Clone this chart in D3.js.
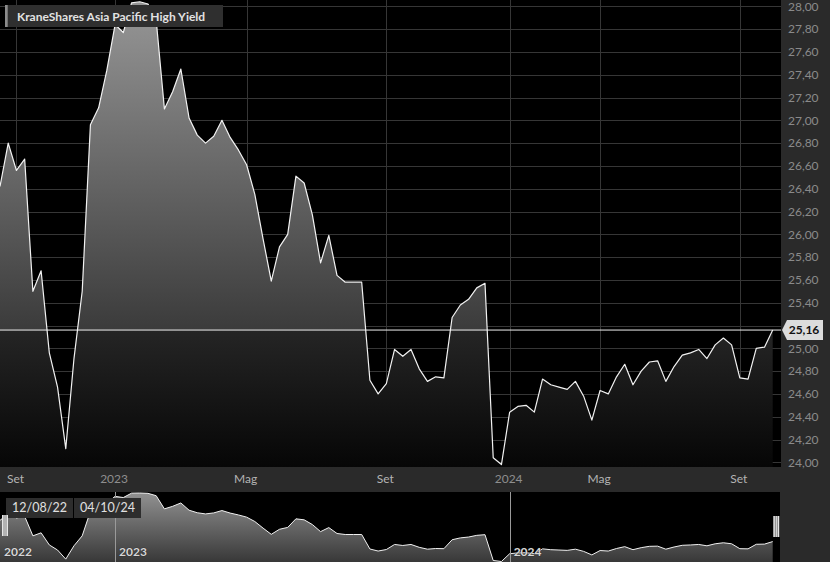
<!DOCTYPE html>
<html><head><meta charset="utf-8">
<script src="https://cdn.jsdelivr.net/npm/d3@7"></script>
<style>
html,body{margin:0;padding:0;background:#2a2a2a;overflow:hidden;}
svg{display:block;font-family:Lato,"Open Sans",sans-serif;}
</style></head><body>
<svg id="c" width="830" height="562"></svg>
<script>
const title = "KraneShares Asia Pacific High Yield";
const values = [
26.42, 26.80, 26.56, 26.66, 25.50, 25.68, 24.96, 24.66, 24.12, 24.91,
25.50, 26.96, 27.11, 27.44, 27.84, 27.77, 28.03, 28.04, 28.02, 27.88,
27.10, 27.25, 27.45, 27.02, 26.87, 26.80, 26.86, 27.00, 26.85, 26.74,
26.61, 26.35, 25.96, 25.59, 25.89, 26.00, 26.51, 26.45, 26.17, 25.75,
25.99, 25.64, 25.58, 25.58, 25.58, 24.72, 24.60, 24.69, 24.99, 24.93,
24.99, 24.82, 24.71, 24.75, 24.74, 25.27, 25.38, 25.43, 25.53, 25.57,
24.04, 23.98, 24.44, 24.49, 24.50, 24.44, 24.73, 24.68, 24.66, 24.64,
24.71, 24.58, 24.37, 24.63, 24.60, 24.75, 24.86, 24.68, 24.80, 24.88,
24.89, 24.71, 24.84, 24.94, 24.96, 24.99, 24.91, 25.03, 25.09, 25.03,
24.74, 24.73, 25.00, 25.01, 25.16
];
const xTickIndex = [2, 14, 30, 47, 62, 73, 90];
const xTickLabels = ["Set", "2023", "Mag", "Set", "2024", "Mag", "Set"];
const yTickValues = [24.0, 24.2, 24.4, 24.6, 24.8, 25.0, 25.2, 25.4, 25.6, 25.8, 26.0,
                     26.2, 26.4, 26.6, 26.8, 27.0, 27.2, 27.4, 27.6, 27.8, 28.0];
const navTickIndex = [0, 14, 62];
const navTickLabels = ["2022", "2023", "2024"];
const rangeFrom = "12/08/22";
const rangeTo = "04/10/24";

const fmt = v => d3.format(".2f")(v).replace(".", ",");
const svg = d3.select("#c");
const defs = svg.append("defs");

const PW = 781, PH = 467;          // main plot area
const NT = 492, NB = 562;          // navigator area

const x = d3.scaleLinear().domain([0, values.length - 1]).range([0, 772.7]);
const y = d3.scaleLinear().domain([24, 28]).range([462.3, 6.3]);
const ny = d3.scaleLinear().domain([d3.min(values), d3.max(values)]).range([561.5, 493]);

const last = values[values.length - 1];
const thr = y(last);

// gradients
const g1 = defs.append("linearGradient").attr("id", "gMain")
  .attr("gradientUnits", "userSpaceOnUse").attr("x1", 0).attr("x2", 0).attr("y1", 0).attr("y2", PH);
[[0, "#979797"], [thr / PH, "#3b3b3b"], [thr / PH, "#252525"], [1, "#060606"]]
  .forEach(([o, c]) => g1.append("stop").attr("offset", o).attr("stop-color", c));
const g2 = defs.append("linearGradient").attr("id", "gNav")
  .attr("gradientUnits", "userSpaceOnUse").attr("x1", 0).attr("x2", 0).attr("y1", NT).attr("y2", NB);
[[0, "#929292"], [1, "#383838"]]
  .forEach(([o, c]) => g2.append("stop").attr("offset", o).attr("stop-color", c));
defs.append("clipPath").attr("id", "clipMain").append("rect").attr("x", 0).attr("y", 0).attr("width", PW).attr("height", PH);
defs.append("clipPath").attr("id", "clipNav").append("rect").attr("x", 0).attr("y", NT).attr("width", 780).attr("height", NB - NT);

// backgrounds
svg.append("rect").attr("width", 830).attr("height", 562).attr("fill", "#2a2a2a");
svg.append("rect").attr("x", 0).attr("y", 0).attr("width", PW).attr("height", PH).attr("fill", "#000");
svg.append("rect").attr("x", 0).attr("y", NT).attr("width", 780).attr("height", NB - NT).attr("fill", "#000");

// gridlines
const gy = svg.append("g").attr("transform", `translate(${PW},0)`)
  .call(d3.axisRight(y).tickValues(yTickValues).tickSize(-PW).tickFormat(""));
gy.select(".domain").remove();
gy.selectAll("line").attr("stroke", "#363636").attr("shape-rendering", "crispEdges");
const gx = svg.append("g").attr("transform", `translate(0,${PH})`)
  .call(d3.axisBottom(x).tickValues(xTickIndex).tickSize(-PH).tickFormat(""));
gx.select(".domain").remove();
gx.selectAll("line").attr("stroke", "#363636").attr("shape-rendering", "crispEdges");

// main area + line
const main = svg.append("g").attr("clip-path", "url(#clipMain)");
main.append("path").datum(values)
  .attr("d", d3.area().x((d, i) => x(i)).y0(PH).y1(d => y(d)))
  .attr("fill", "url(#gMain)");
main.append("path").datum(values)
  .attr("d", d3.line().x((d, i) => x(i)).y(d => y(d)))
  .attr("fill", "none").attr("stroke", "#f2f2f2").attr("stroke-width", 1.2).attr("stroke-linejoin", "round");

// last value line
svg.append("line").attr("x1", 0).attr("x2", PW).attr("y1", thr).attr("y2", thr)
  .attr("stroke", "#f0f0f0").attr("stroke-width", 1);

// y axis labels (labels colliding with the last-value flag are hidden)
const ay = svg.append("g").attr("transform", `translate(${PW},0)`)
  .call(d3.axisRight(y).tickValues(yTickValues.filter(v => Math.abs(y(v) - thr) > 12))
    .tickSize(0).tickPadding(7).tickFormat(fmt));
ay.select(".domain").remove();
ay.selectAll("text").attr("fill", "#8a8a8a").attr("font-size", 12).attr("font-family", "Lato");

// last value label
const lb = svg.append("g");
lb.append("path")
  .attr("d", `M${PW + 1},${thr} L${PW + 6},${thr - 10} L823,${thr - 10} L823,${thr + 10} L${PW + 6},${thr + 10} Z`)
  .attr("fill", "#dcdcdc");
lb.append("text").attr("x", 804).attr("y", thr).attr("dy", "0.35em").attr("text-anchor", "middle")
  .attr("font-size", 12).attr("font-weight", "bold").attr("fill", "#111").text(fmt(last));

// x axis labels
const ax = svg.append("g").attr("transform", `translate(-1.5,${PH})`)
  .call(d3.axisBottom(x).tickValues(xTickIndex).tickSize(0).tickPadding(7.5)
    .tickFormat((d, i) => xTickLabels[i]));
ax.select(".domain").remove();
ax.selectAll("text").attr("font-size", 12).attr("font-family", "Lato")
  .attr("fill", (d, i) => /^\d+$/.test(xTickLabels[i]) ? "#8e8e8e" : "#b4b4b4");

// title
const tg = svg.append("g");
tg.append("rect").attr("x", 5).attr("y", 5).attr("width", 218).attr("height", 22).attr("fill", "#2f2f2f");
tg.append("rect").attr("x", 5).attr("y", 5).attr("width", 2.7).attr("height", 22).attr("fill", "#8c8c8c");
tg.append("text").attr("x", 17).attr("y", 20.5).attr("font-size", 12).attr("font-weight", "bold")
  .attr("fill", "#e2e2e2").text(title);

// navigator
const nav = svg.append("g").attr("clip-path", "url(#clipNav)");
nav.append("path").datum(values)
  .attr("d", d3.area().x((d, i) => x(i)).y0(NB).y1(d => ny(d)))
  .attr("fill", "url(#gNav)");
nav.append("path").datum(values)
  .attr("d", d3.line().x((d, i) => x(i)).y(d => ny(d)))
  .attr("fill", "none").attr("stroke", "#f0f0f0").attr("stroke-width", 1);
const ng = svg.append("g").attr("transform", `translate(0,${NB})`)
  .call(d3.axisBottom(x).tickValues(navTickIndex.filter(d => d > 0)).tickSize(-(NB - NT)).tickFormat(""));
ng.select(".domain").remove();
ng.selectAll("line").attr("stroke", "#9a9a9a").attr("shape-rendering", "crispEdges");
svg.append("g").selectAll("text").data(navTickIndex).join("text")
  .attr("x", d => x(d) + 4).attr("y", 556).attr("font-size", 12).attr("font-weight", "bold")
  .attr("fill", "#d6d6d6").attr("stroke", "#222").attr("stroke-width", 0.6).attr("paint-order", "stroke")
  .text((d, i) => navTickLabels[i]);

// range inputs
[[rangeFrom, 6], [rangeTo, 74]].forEach(([t, bx]) => {
  svg.append("rect").attr("x", bx).attr("y", 498).attr("width", 67).attr("height", 20).attr("fill", "#2d2d2d");
  svg.append("text").attr("x", bx + 33.5).attr("y", 508).attr("dy", "0.35em").attr("text-anchor", "middle")
    .attr("font-size", 12.5).attr("fill", "#e0e0e0").text(t);
});

// handles
[[2, 515], [773.3, 516]].forEach(([hx, hy]) => {
  const h = svg.append("g");
  h.append("rect").attr("x", hx).attr("y", hy).attr("width", 6).attr("height", 21).attr("fill", "#e6e6e6");
  [2, 4].forEach(o => h.append("line").attr("x1", hx + o).attr("x2", hx + o).attr("y1", hy).attr("y2", hy + 21)
    .attr("stroke", "#666").attr("stroke-width", 0.8));
});
</script>
</body></html>
